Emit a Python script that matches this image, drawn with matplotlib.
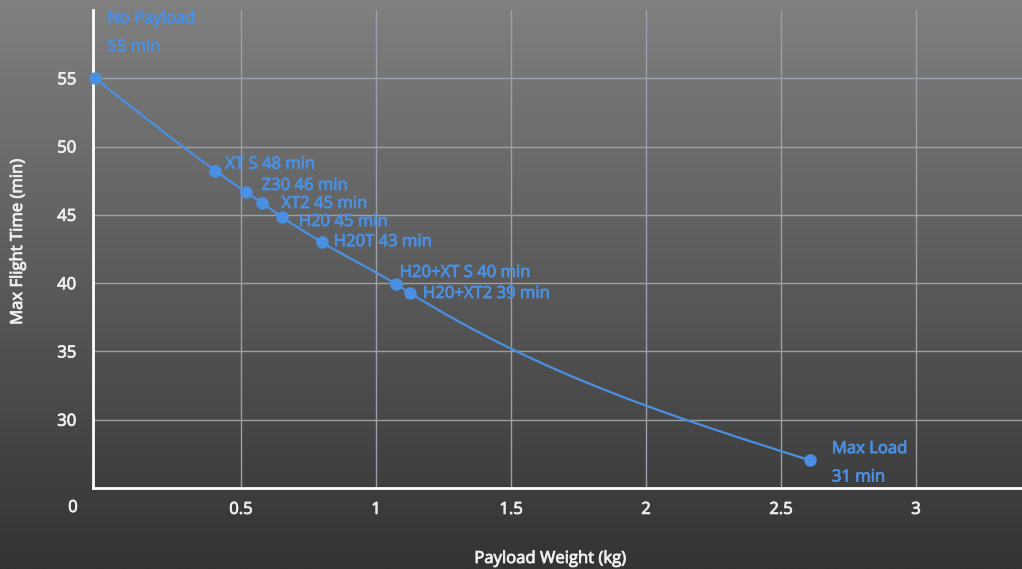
import matplotlib
matplotlib.use("Agg")
import matplotlib.pyplot as plt
import matplotlib.patheffects as pe
import numpy as np
from matplotlib.path import Path
from matplotlib.patches import PathPatch

# payload weight (kg) vs flight time (min)
payload = [-0.04, 0.405, 0.517, 0.579, 0.651, 0.799, 1.073, 1.126, 2.607]
flight = [55, 48.24, 46.68, 45.87, 44.84, 43.0, 39.94, 39.28, 27.03]
labels = ["No Payload\n\n55 min", "XT S 48 min", "Z30 46 min", "XT2 45 min",
          "H20 45 min", "H20T 43 min", "H20+XT S 40 min", "H20+XT2 39 min",
          "Max Load\n\n31 min"]
xticks = [0.5, 1, 1.5, 2, 2.5, 3]
yticks = [30, 35, 40, 45, 50, 55]

# label offsets in pixels (dx, dy)
offsets = [(12, 45), (10, 6), (16, 6), (19, -1), (17, -5), (12, 0), (4, 11), (13, -1), (22, -3)]

BLUE = "#4a90e2"
TXT = "#eeeeee"
FS = 12
plt.rcParams["font.family"] = ["Open Sans", "DejaVu Sans"]


def heavy(color):
    # a touch heavier than regular, like the semibold in the original
    return [pe.withStroke(linewidth=0.6, foreground=color)]


fig = plt.figure(figsize=(10.22, 5.69), dpi=100)

# gradient background
bg = fig.add_axes([0, 0, 1, 1], zorder=0)
grad = np.linspace(0, 1, 256)[:, None]
bg.imshow(grad, aspect="auto", cmap=matplotlib.colors.LinearSegmentedColormap.from_list(
    "g", ["#808080", "#333333"]), extent=[0, 1, 0, 1], origin="upper")
bg.axis("off")

ax = fig.add_axes([93 / 1022, 1 - 488 / 569, 1 - 93 / 1022, (488 - 10) / 569], zorder=1)
ax.set_facecolor("none")
ax.set_xlim(-13 / 270, 916 / 270)
ax.set_ylim(25, 60)

ax.set_xticks(xticks)
ax.set_xticklabels([f"{t:g}" for t in xticks])
ax.set_yticks(yticks)
ax.tick_params(length=0, colors=TXT, labelsize=FS)
ax.tick_params(axis="x", pad=10)
ax.tick_params(axis="y", pad=12)
for lab in ax.get_xticklabels() + ax.get_yticklabels():
    lab.set_path_effects(heavy(TXT))
ax.grid(True, color="#9aa0a8", linewidth=1)
ax.set_axisbelow(True)
for s in ["top", "right"]:
    ax.spines[s].set_visible(False)
for s in ["left", "bottom"]:
    ax.spines[s].set_color("white")
    ax.spines[s].set_linewidth(2)
    ax.spines[s].set_zorder(3)

# "0" label sits left of the axis
ax.annotate("0", xy=(0, 0), xycoords=("data", "axes fraction"), xytext=(-33, -20),
            textcoords="offset pixels", ha="center", va="center", color=TXT,
            fontsize=FS, annotation_clip=False, path_effects=heavy(TXT))

# smooth curve: cubic Hermite segments drawn as bezier path
x = np.array(payload, dtype=float)
y = np.array(flight, dtype=float)
h = np.diff(x)
d = np.diff(y) / h
m = np.zeros_like(x)
m[1:-1] = (h[1:] * d[:-1] + h[:-1] * d[1:]) / (h[:-1] + h[1:])
m0 = ((2 * h[0] + h[1]) * d[0] - h[0] * d[1]) / (h[0] + h[1])
m[0] = (m0 + d[0]) / 2
mn = ((2 * h[-1] + h[-2]) * d[-1] - h[-1] * d[-2]) / (h[-1] + h[-2])
m[-1] = (mn + d[-1]) / 2
verts = [(x[0], y[0])]
codes = [Path.MOVETO]
for i in range(len(x) - 1):
    verts += [(x[i] + h[i] / 3, y[i] + m[i] * h[i] / 3),
              (x[i + 1] - h[i] / 3, y[i + 1] - m[i + 1] * h[i] / 3),
              (x[i + 1], y[i + 1])]
    codes += [Path.CURVE4] * 3
ax.add_patch(PathPatch(Path(verts, codes), facecolor="none", edgecolor=BLUE, lw=1.6, zorder=4))
ax.plot(payload, flight, "o", color=BLUE, markersize=8, zorder=5, clip_on=False)

for xi, yi, lab, (dx, dy) in zip(payload, flight, labels, offsets):
    ax.annotate(lab, xy=(xi, yi), xytext=(dx, dy), textcoords="offset pixels",
                ha="left", va="center", color=BLUE, fontsize=FS,
                linespacing=0.85, annotation_clip=False, path_effects=heavy(BLUE))

fig.text(18 / 1022, 1 - 242 / 569, "Max Flight Time (min)", rotation=90, ha="center",
         va="center", color=TXT, fontsize=FS, path_effects=heavy(TXT))
fig.text(550 / 1022, 1 - 559 / 569, "Payload Weight (kg)", ha="center", va="center",
         color=TXT, fontsize=FS, path_effects=heavy(TXT))

fig.savefig("out.png", dpi=100)
